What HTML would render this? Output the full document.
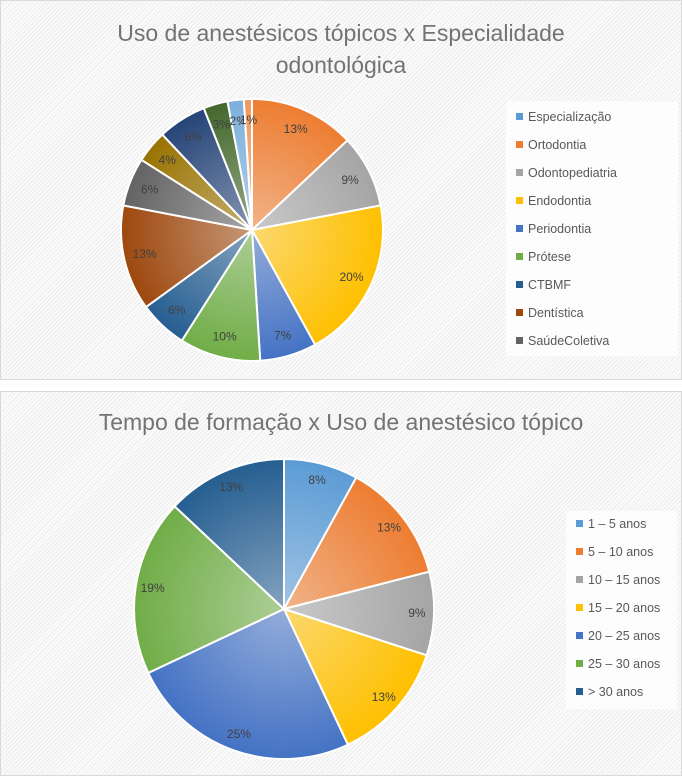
<!DOCTYPE html>
<html><head><meta charset="utf-8">
<style>
body{margin:0;width:682px;height:776px;background:#fff;font-family:"Liberation Sans",sans-serif;overflow:hidden}
.panel{position:absolute;left:0;width:680px;border:1px solid #d9d9d9;
background:repeating-linear-gradient(135deg,#fbfbfb 0 2px,#ececec 2px 3px)}
.title{position:absolute;left:0;width:100%;text-align:center;color:#737373;font-size:23px;line-height:32px}
.legend{position:absolute;background:rgba(255,255,255,0.75);font-size:12.5px;color:#595959}
.li{position:absolute;left:10px;white-space:nowrap}
.sw{display:inline-block;width:7px;height:7px;margin-right:5px;vertical-align:1px}
svg{position:absolute;left:0;top:0}
</style></head><body>
<div class="panel" style="top:0;height:378px">
 <div class="title" style="top:16px">Uso de anestésicos tópicos x Especialidade<br>odontológica</div>
 <div class="legend" id="leg1" style="left:505px;top:100px;width:172px;height:255px"></div>
</div>
<div class="panel" style="top:391px;height:383px">
 <div class="title" style="top:14px">Tempo de formação x Uso de anestésico tópico</div>
 <div class="legend" id="leg2" style="left:565px;top:119px;width:111px;height:198px"></div>
</div>
<svg id="svg" width="682" height="776"></svg>
<script>
const cats1=["Especialização","Ortodontia","Odontopediatria","Endodontia","Periodontia","Prótese","CTBMF","Dentística","SaúdeColetiva","Outra 1","Outra 2","Outra 3","Outra 4","Outra 5"];
const vals1=[0,13,9,20,7,10,6,13,6,4,6,3,2,1];
const cats2=["1 – 5 anos","5 – 10 anos","10 – 15 anos","15 – 20 anos","20 – 25 anos","25 – 30 anos","> 30 anos"];
const vals2=[8,13,9,13,25,19,13];
const colors=["#5B9BD5","#ED7D31","#A5A5A5","#FFC000","#4472C4","#70AD47","#255E91","#9E480E","#636363","#997300","#264478","#43682B","#7CAFDD","#F1975A"];
const NS="http://www.w3.org/2000/svg";
const svg=document.getElementById('svg');
const defs=document.createElementNS(NS,'defs');svg.appendChild(defs);
function grad(id,c,cx,cy,r){
 const g=document.createElementNS(NS,'radialGradient');
 g.setAttribute('id',id);g.setAttribute('gradientUnits','userSpaceOnUse');
 g.setAttribute('cx',cx);g.setAttribute('cy',cy);g.setAttribute('r',r);
 g.innerHTML='<stop offset="0" stop-color="'+c+'" stop-opacity="0.55"/><stop offset="1" stop-color="'+c+'"/>';
 defs.appendChild(g);
}
function pie(vals,cats,cx,cy,r,lr,pref,legId,sp,top0){
 const tot=vals.reduce((a,b)=>a+b,0);let a0=0;
 vals.forEach((v,i)=>{
  const a1=a0+v/tot*2*Math.PI;
  if(v>0){
   grad(pref+'g'+i,colors[i],cx,cy,r);
   const p=document.createElementNS(NS,'path');
   const x0=cx+r*Math.sin(a0),y0=cy-r*Math.cos(a0),x1=cx+r*Math.sin(a1),y1=cy-r*Math.cos(a1);
   p.setAttribute('d',`M${cx},${cy}L${x0},${y0}A${r},${r} 0 ${a1-a0>Math.PI?1:0} 1 ${x1},${y1}Z`);
   p.setAttribute('fill','url(#'+pref+'g'+i+')');p.setAttribute('stroke','#fff');p.setAttribute('stroke-width','2');
   
   
   svg.appendChild(p);
   const am=(a0+a1)/2;
   const t=document.createElementNS(NS,'text');
   t.setAttribute('x',cx+lr*Math.sin(am));t.setAttribute('y',cy-lr*Math.cos(am)+4);
   t.setAttribute('text-anchor','middle');t.setAttribute('font-size','12');t.setAttribute('fill','#404040');
   t.setAttribute('font-family','Liberation Sans, sans-serif');
   t.textContent=v+'%';
   
   
   svg.appendChild(t);
  }
  a0=a1;
 });
 const leg=document.getElementById(legId);
 cats.slice(0,legId==='leg1'?9:cats.length).forEach((c,i)=>{
  const d=document.createElement('div');d.className='li';d.style.top=(top0+i*sp)+'px';
  d.innerHTML='<span class="sw" style="background:'+colors[i]+'"></span>'+c;
  
  
  leg.appendChild(d);
 });
}
pie(vals1,cats1,252,230,131,110,'a','leg1',28,9);
pie(vals2,cats2,284,609,150,133,'b','leg2',28,6);
</script>
</body></html>
